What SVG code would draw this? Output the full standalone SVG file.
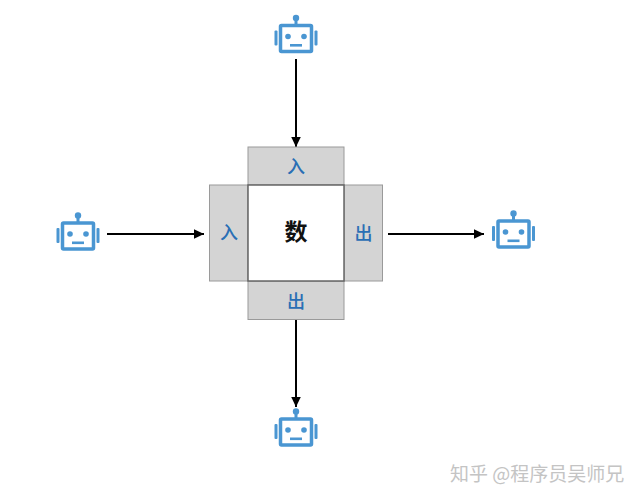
<svg xmlns="http://www.w3.org/2000/svg" width="638" height="500" viewBox="0 0 638 500">
<style>
.box{fill:#d4d4d4;stroke:#9a9a9a;stroke-width:1}
.core{fill:#fff;stroke:#666;stroke-width:1.500}
.lbl{font-family:"Noto Sans CJK SC","Liberation Sans",sans-serif;font-size:18px;font-weight:500;fill:#2a6fb5;text-anchor:middle}
.big{font-family:"Noto Sans CJK SC","Liberation Sans",sans-serif;font-size:23px;font-weight:700;fill:#111;text-anchor:middle}
.wm{font-family:"Noto Sans CJK SC","Liberation Sans",sans-serif;font-size:19px;fill:#c4c4c4}
.line{fill:none;stroke:#000;stroke-width:2;marker-end:url(#arrow)}
.rb{fill:none;stroke:#4a96d2;stroke-width:3.500}
.rf{fill:#4a96d2}
</style>
<defs>
<marker id="arrow" markerUnits="userSpaceOnUse" markerWidth="12" markerHeight="12" refX="10.500" refY="5" orient="auto"><path d="M0 0L10.500 5L0 10Z" fill="#000"/></marker>
<g id="robot">
<rect class="rb" x="-15.500" y="-13" width="31" height="26" rx="1"/>
<rect class="rf" x="-1.500" y="-18" width="3" height="5"/>
<circle class="rf" cx="0" cy="-20.500" r="3.200"/>
<rect class="rf" x="-21.500" y="-8" width="3" height="15" rx="1"/>
<rect class="rf" x="18.500" y="-8" width="3" height="15" rx="1"/>
<circle class="rf" cx="-8" cy="-2" r="2.800"/>
<circle class="rf" cx="8" cy="-2" r="2.800"/>
<rect class="rf" x="-6" y="5.500" width="12" height="2.600"/>
</g>
</defs>
<rect width="638" height="500" fill="#fff"/>
<g id="connectors">
<line class="line" x1="296" y1="59" x2="296" y2="147"/>
<line class="line" x1="107" y1="234" x2="204" y2="234"/>
<line class="line" x1="388" y1="234" x2="484" y2="234"/>
<line class="line" x1="296" y1="320" x2="296" y2="407"/>
</g>
<g id="robot-top"><use href="#robot" x="296" y="38.500"/></g>
<g id="robot-left"><use href="#robot" x="78" y="236"/></g>
<g id="robot-right"><use href="#robot" x="513.500" y="234"/></g>
<g id="robot-bottom"><use href="#robot" x="296" y="432"/></g>
<g id="in-top"><rect class="box" x="248" y="147" width="96" height="38"/><text class="lbl" x="296" y="173">入</text></g>
<g id="in-left"><rect class="box" x="209.500" y="185" width="38.500" height="96"/><text class="lbl" x="229" y="239">入</text></g>
<g id="out-right"><rect class="box" x="344" y="185" width="38.500" height="96"/><text class="lbl" x="363.500" y="240">出</text></g>
<g id="out-bottom"><rect class="box" x="248" y="281" width="96" height="38.500"/><text class="lbl" x="296" y="308">出</text></g>
<g id="data"><rect class="core" x="248" y="185" width="96" height="96"/><text class="big" x="296" y="240">数</text></g>
<text class="wm" x="450" y="481">知乎 @程序员吴师兄</text>
</svg>
